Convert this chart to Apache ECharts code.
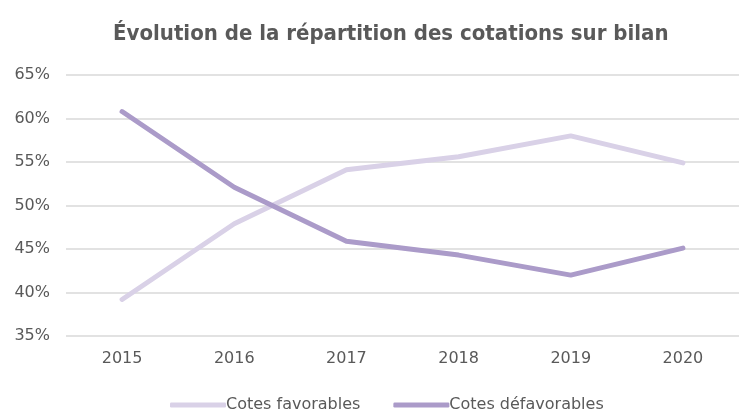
<!DOCTYPE html>
<html>
<head>
<meta charset="utf-8">
<script src="https://cdn.jsdelivr.net/npm/echarts@6/dist/echarts.min.js"></script>
<style>
html, body { margin: 0; padding: 0; background: #fff; }
#chart { width: 739px; height: 414px; }
</style>
</head>
<body>
<div id="chart"></div>
<script>
var annees = ['2015', '2016', '2017', '2018', '2019', '2020'];
var cotesFavorables = [39.2, 47.9, 54.1, 55.6, 58.0, 54.9];
var cotesDefavorables = [60.8, 52.1, 45.9, 44.3, 42.0, 45.1];

var myChart = echarts.init(document.getElementById('chart'));
var police = 'DejaVu Sans';
myChart.setOption({
	animation : false,
	title : {
		text : 'Évolution de la répartition des cotations sur bilan',
		left : 108,
		top : 18,
		textStyle : {
			fontFamily : 'DejaVu Sans Condensed',
			fontWeight : 'bold',
			fontSize : 22,
			color : '#595959'
		}
	},
	legend : {
		bottom : -4,
		left : 165,
		itemWidth : 56,
		itemHeight : 5,
		itemGap : 33,
		icon : 'roundRect',
		textStyle : {
			fontFamily : police,
			fontSize : 16,
			color : '#595959',
			padding : [0, 0, 0, -5]
		},
		data : ['Cotes favorables', 'Cotes défavorables']
	},
	grid : {
		left : 66,
		top : 75,
		width : 684,
		height : 261
	},
	xAxis : {
		type : 'category',
		data : annees,
		axisLine : { show : false },
		axisTick : { show : false },
		axisLabel : {
			margin : 15,
			fontFamily : police,
			fontSize : 16,
			color : '#595959'
		}
	},
	yAxis : {
		type : 'value',
		min : 35,
		max : 65,
		interval : 5,
		axisLine : { show : false },
		axisTick : { show : false },
		axisLabel : {
			margin : 16,
			fontFamily : police,
			fontSize : 16,
			color : '#595959',
			formatter : '{value}%'
		},
		splitLine : { lineStyle : { color : '#d9d9d9', width : 1.5 } }
	},
	series : [ {
		name : 'Cotes favorables',
		type : 'line',
		data : cotesFavorables,
		showSymbol : false,
		symbol : 'none',
		lineStyle : { width : 5, color : '#d9d1e7', cap : 'round', join : 'round' },
		itemStyle : { color : '#d9d1e7' }
	}, {
		name : 'Cotes défavorables',
		type : 'line',
		data : cotesDefavorables,
		showSymbol : false,
		symbol : 'none',
		lineStyle : { width : 5, color : '#ab9bc9', cap : 'round', join : 'round' },
		itemStyle : { color : '#ab9bc9' }
	} ]
});
</script>
</body>
</html>
